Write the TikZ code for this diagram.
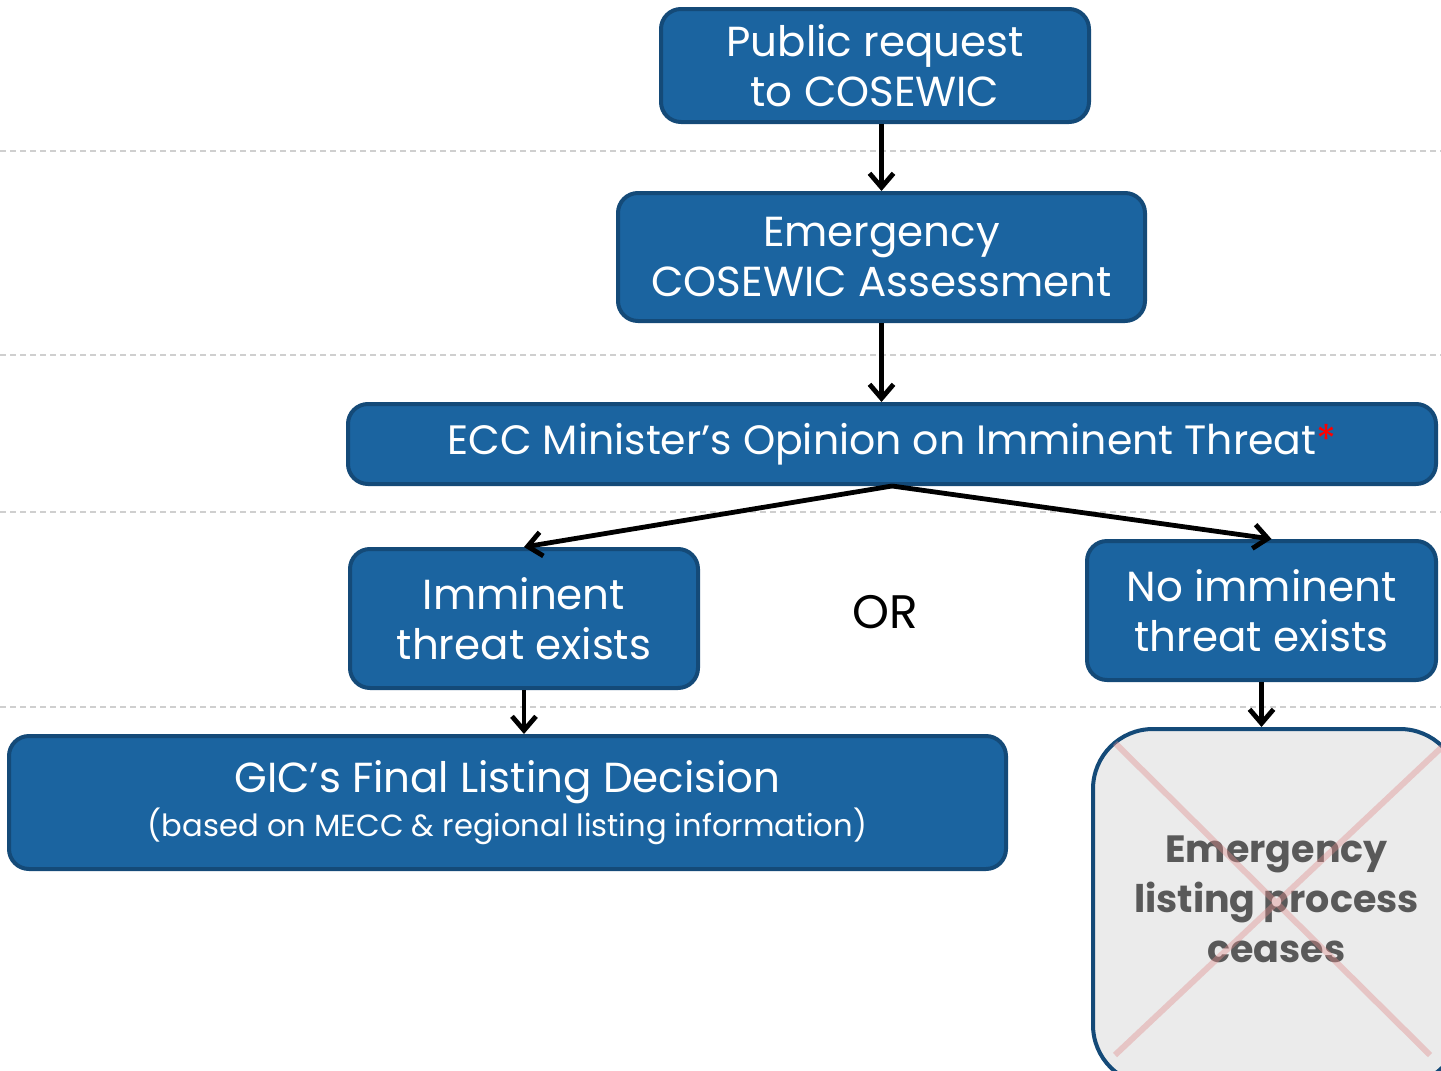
\documentclass[tikz,border=0pt]{standalone}
\usepackage{fontspec}
\setmainfont{Poppins}
\usetikzlibrary{arrows.meta}
\definecolor{boxblue}{HTML}{1B64A0}
\definecolor{boxedge}{HTML}{144A78}
\definecolor{greybox}{HTML}{EBEBEB}
\definecolor{greytext}{HTML}{595959}
\definecolor{crossred}{HTML}{E08C8C}
\definecolor{sepgrey}{HTML}{CFCFCF}

\begin{document}
\begin{tikzpicture}[x=0.5pt,y=-0.5pt,
    stage/.style={draw=boxedge, fill=boxblue, line width=2pt, rounded corners=10pt,
        text=white, align=center, inner sep=0pt, font=\fontsize{21}{25}\selectfont},
    flow/.style={-{Straight Barb[length=7pt,width=12pt]}, line width=2.4pt},
    sep/.style={sepgrey, line width=1pt, dash pattern=on 3pt off 2pt}]
    \clip (0,0) rectangle (1441,1071);

    % Draw the dashed separators
    \foreach \y in {151,355,512,707}
        \draw[sep] (0,\y) -- (1441,\y);

    % Draw the process boxes
    \node[stage, minimum width=214pt, minimum height=56.5pt] (request) at (875,65.5)
        {Public request\\to COSEWIC};
    \node[stage, minimum width=263.5pt, minimum height=64pt] (assess) at (881.5,257)
        {Emergency\\COSEWIC Assessment};
    \node[stage, minimum width=544pt, minimum height=40pt] (opinion) at (892,444)
        {\fontsize{20.5}{25}\selectfont ECC Minister’s Opinion on Imminent Threat{\color{red}*}};
    \node[stage, minimum width=174pt, minimum height=69.5pt] (imminent) at (524,618.5)
        {Imminent\\threat exists};
    \node[stage, minimum width=174.5pt, minimum height=69.5pt] (noimminent) at (1261.5,610.5)
        {No imminent\\threat exists};
    \node[stage, minimum width=498.5pt, minimum height=66.5pt] (final) at (507.5,802.5)
        {GIC’s Final Listing Decision\\[-3pt]{\fontsize{15.3}{19}\selectfont (based on MECC \& regional listing information)}};
    \node[font=\fontsize{23.5}{25}\selectfont] (or) at (885,612) {OR};

    % Draw the box where the process stops, crossed out
    \node[draw=boxedge, fill=greybox, line width=2pt, rounded corners=30pt,
        minimum width=183.5pt, minimum height=178pt, text=greytext, align=center,
        text depth=8pt, font=\bfseries\fontsize{19}{25}\selectfont] (ceases) at (1276.5,907)
        {Emergency\\listing process\\ceases};
    \draw[crossred, opacity=0.4, line width=3pt]
        ([shift={(12pt,-8pt)}]ceases.north west) -- ([shift={(-16pt,16pt)}]ceases.south east)
        ([shift={(12pt,16pt)}]ceases.south west) -- ([shift={(-10pt,-10pt)}]ceases.north east);

    % Draw the arrows
    \draw[flow] (request.south -| assess.north) -- (assess.north);
    \draw[flow] (assess.south) -- (assess.south |- opinion.north);
    \draw[flow] (opinion.south) -- (imminent.north);
    \draw[flow] (opinion.south) -- ([xshift=5pt]noimminent.north);
    \draw[flow] (imminent.south) -- (imminent.south |- final.north);
    \draw[flow] (noimminent.south) -- (noimminent.south |- ceases.north);
\end{tikzpicture}
\end{document}
